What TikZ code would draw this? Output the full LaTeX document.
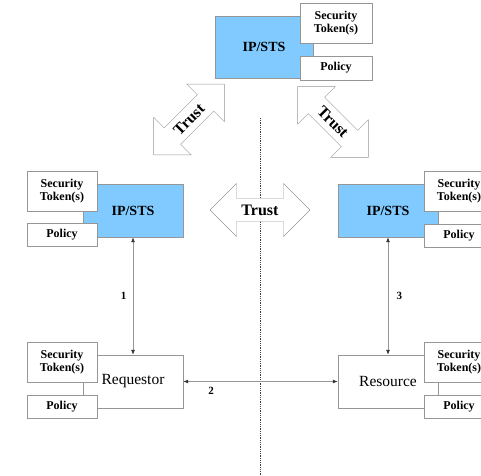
\documentclass[tikz,border=0pt]{standalone}
\usepackage{fontspec}
\setmainfont{Liberation Serif}
\usetikzlibrary{shapes.arrows,arrows.meta}
\definecolor{stsblue}{RGB}{128,202,255}
\definecolor{linegray}{RGB}{150,150,150}

\begin{document}
\begin{tikzpicture}[x=1pt,y=-1pt,
        sts/.style={draw=linegray,fill=stsblue,minimum width=100pt,minimum height=53pt,
            font=\fontsize{14}{14}\selectfont\bfseries},
        party/.style={draw=linegray,fill=white,minimum width=100pt,minimum height=53pt,
            font=\fontsize{15.5}{15.5}\selectfont},
        token/.style={draw=linegray,fill=white,minimum width=70pt,minimum height=40pt,
            inner sep=0pt,align=center,font=\fontsize{12}{13}\selectfont\bfseries},
        policy/.style={draw=linegray,fill=white,minimum width=70pt,minimum height=23pt,
            inner sep=0pt,font=\fontsize{12}{12}\selectfont\bfseries},
        trust/.style={double arrow,draw=linegray,fill=white,double arrow tip angle=90,
            double arrow head extend=15pt,minimum height=100pt,inner xsep=2pt,inner ysep=6pt,
            font=\fontsize{16}{16}\selectfont\bfseries},
        link/.style={draw=linegray,thick,
            {Latex[length=5pt,width=4pt,black!80]}-{Latex[length=5pt,width=4pt,black!80]}},
        num/.style={font=\fontsize{11}{11}\selectfont\bfseries}]
        \useasboundingbox (0,0) rectangle (481,475);
        %% Top IP/STS
        \node[sts,minimum width=98pt,minimum height=62pt] (topsts) at (264,47) {IP/STS};
        \node[token,minimum width=72pt] (toptoken) at (336,23) {Security\\Token(s)};
        \node[policy,minimum width=72pt,minimum height=24pt] (toppolicy) at (336,68) {Policy};
        %% Left side
        \node[sts] (leftsts) at (133,210.5) {IP/STS};
        \node[token] (lefttoken) at (62,191) {Security\\Token(s)};
        \node[policy] (leftpolicy) at (62,234.5) {Policy};
        \node[party] (requestor) at (133,381.5) {Requestor};
        \node[token] (reqtoken) at (62,362.5) {Security\\Token(s)};
        \node[policy] (reqpolicy) at (62,406.5) {Policy};
        %% Right side
        \node[sts] (rightsts) at (388,210.5) {IP/STS};
        \node[token] (righttoken) at (459,191.5) {Security\\Token(s)};
        \node[policy] (rightpolicy) at (459,236) {Policy};
        \node[party] (resource) at (388,381.5) {Resource};
        \node[token] (restoken) at (459,362.5) {Security\\Token(s)};
        \node[policy] (respolicy) at (459,406.5) {Policy};
        %% Divider
        \coordinate (divtop) at (260,118);
        \coordinate (divbot) at (260,475);
        \draw[densely dotted,thick,black!75] (divtop) -- (divbot);
        %% Trust
        \node[trust] (trustmid) at (260,210) {Trust};
        \node[trust,rotate=45] (trustleft) at (189,119.5) {Trust};
        \node[trust,rotate=-45] (trustright) at (333,122) {Trust};
        %% Messages
        \draw[link] (requestor.north) -- (leftsts.south)
            node[num,pos=0.5,left=3pt] (one) {1};
        \draw[link] (requestor.east) -- (resource.west)
            node[num,pos=0.18,below=2pt] (two) {2};
        \draw[link] (resource.north) -- (rightsts.south)
            node[num,pos=0.5,right=5pt] (three) {3};
    \end{tikzpicture}
\end{document}
